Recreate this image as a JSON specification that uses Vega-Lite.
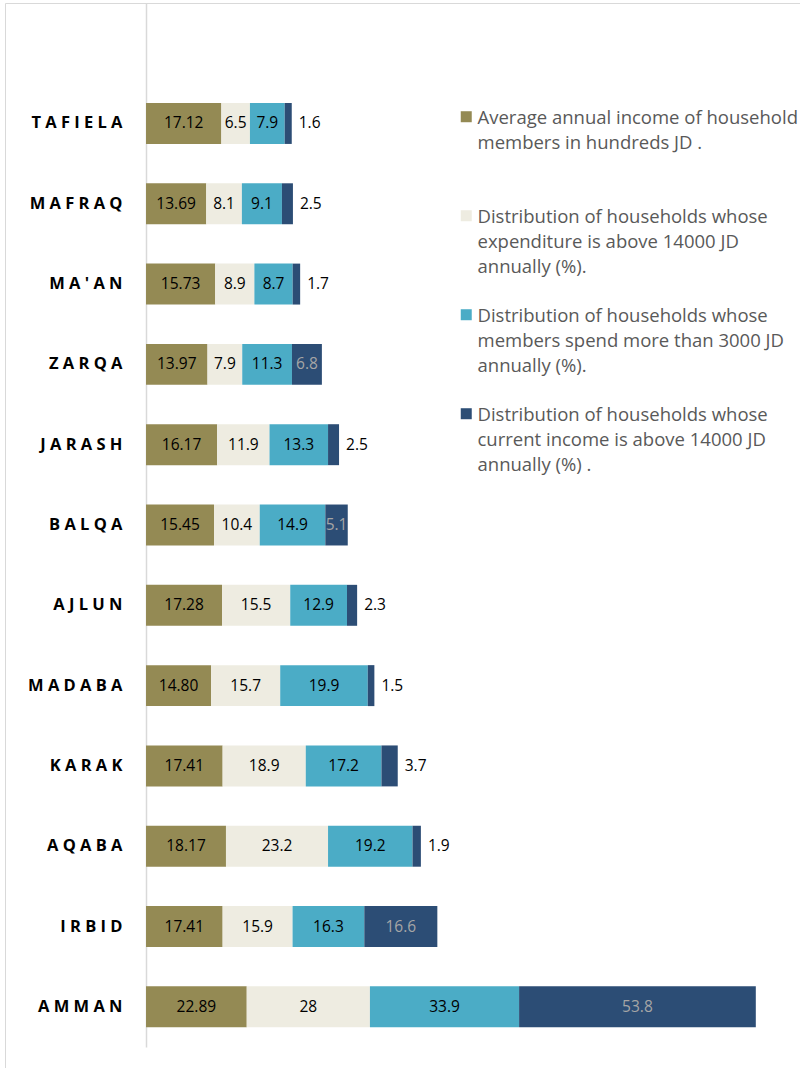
{
  "$schema": "https://vega.github.io/schema/vega-lite/v6.json",
  "width": 800,
  "height": 1065,
  "autosize": {"type": "none"},
  "padding": {"left": 5, "top": 3, "right": 0, "bottom": 0},
  "background": "white",
  "config": {"view": {"stroke": "#d9d9d9", "strokeWidth": 1}, "font": "Open Sans", "style": {"guide-label": {"lineHeight": 25}}},
  "data": {"values": [
    {"region": "TAFIELA", "k": 1, "series": "Average annual income of household members in hundreds JD .", "value": 17.12},
    {"region": "TAFIELA", "k": 2, "series": "Distribution of households whose expenditure is above 14000 JD annually (%).", "value": 6.5},
    {"region": "TAFIELA", "k": 3, "series": "Distribution of households whose members spend more than 3000 JD annually (%).", "value": 7.9},
    {"region": "TAFIELA", "k": 4, "series": "Distribution of households  whose current income is above 14000 JD annually (%) .", "value": 1.6},
    {"region": "MAFRAQ", "k": 1, "series": "Average annual income of household members in hundreds JD .", "value": 13.69},
    {"region": "MAFRAQ", "k": 2, "series": "Distribution of households whose expenditure is above 14000 JD annually (%).", "value": 8.1},
    {"region": "MAFRAQ", "k": 3, "series": "Distribution of households whose members spend more than 3000 JD annually (%).", "value": 9.1},
    {"region": "MAFRAQ", "k": 4, "series": "Distribution of households  whose current income is above 14000 JD annually (%) .", "value": 2.5},
    {"region": "MA'AN", "k": 1, "series": "Average annual income of household members in hundreds JD .", "value": 15.73},
    {"region": "MA'AN", "k": 2, "series": "Distribution of households whose expenditure is above 14000 JD annually (%).", "value": 8.9},
    {"region": "MA'AN", "k": 3, "series": "Distribution of households whose members spend more than 3000 JD annually (%).", "value": 8.7},
    {"region": "MA'AN", "k": 4, "series": "Distribution of households  whose current income is above 14000 JD annually (%) .", "value": 1.7},
    {"region": "ZARQA", "k": 1, "series": "Average annual income of household members in hundreds JD .", "value": 13.97},
    {"region": "ZARQA", "k": 2, "series": "Distribution of households whose expenditure is above 14000 JD annually (%).", "value": 7.9},
    {"region": "ZARQA", "k": 3, "series": "Distribution of households whose members spend more than 3000 JD annually (%).", "value": 11.3},
    {"region": "ZARQA", "k": 4, "series": "Distribution of households  whose current income is above 14000 JD annually (%) .", "value": 6.8},
    {"region": "JARASH", "k": 1, "series": "Average annual income of household members in hundreds JD .", "value": 16.17},
    {"region": "JARASH", "k": 2, "series": "Distribution of households whose expenditure is above 14000 JD annually (%).", "value": 11.9},
    {"region": "JARASH", "k": 3, "series": "Distribution of households whose members spend more than 3000 JD annually (%).", "value": 13.3},
    {"region": "JARASH", "k": 4, "series": "Distribution of households  whose current income is above 14000 JD annually (%) .", "value": 2.5},
    {"region": "BALQA", "k": 1, "series": "Average annual income of household members in hundreds JD .", "value": 15.45},
    {"region": "BALQA", "k": 2, "series": "Distribution of households whose expenditure is above 14000 JD annually (%).", "value": 10.4},
    {"region": "BALQA", "k": 3, "series": "Distribution of households whose members spend more than 3000 JD annually (%).", "value": 14.9},
    {"region": "BALQA", "k": 4, "series": "Distribution of households  whose current income is above 14000 JD annually (%) .", "value": 5.1},
    {"region": "AJLUN", "k": 1, "series": "Average annual income of household members in hundreds JD .", "value": 17.28},
    {"region": "AJLUN", "k": 2, "series": "Distribution of households whose expenditure is above 14000 JD annually (%).", "value": 15.5},
    {"region": "AJLUN", "k": 3, "series": "Distribution of households whose members spend more than 3000 JD annually (%).", "value": 12.9},
    {"region": "AJLUN", "k": 4, "series": "Distribution of households  whose current income is above 14000 JD annually (%) .", "value": 2.3},
    {"region": "MADABA", "k": 1, "series": "Average annual income of household members in hundreds JD .", "value": 14.80},
    {"region": "MADABA", "k": 2, "series": "Distribution of households whose expenditure is above 14000 JD annually (%).", "value": 15.7},
    {"region": "MADABA", "k": 3, "series": "Distribution of households whose members spend more than 3000 JD annually (%).", "value": 19.9},
    {"region": "MADABA", "k": 4, "series": "Distribution of households  whose current income is above 14000 JD annually (%) .", "value": 1.5},
    {"region": "KARAK", "k": 1, "series": "Average annual income of household members in hundreds JD .", "value": 17.41},
    {"region": "KARAK", "k": 2, "series": "Distribution of households whose expenditure is above 14000 JD annually (%).", "value": 18.9},
    {"region": "KARAK", "k": 3, "series": "Distribution of households whose members spend more than 3000 JD annually (%).", "value": 17.2},
    {"region": "KARAK", "k": 4, "series": "Distribution of households  whose current income is above 14000 JD annually (%) .", "value": 3.7},
    {"region": "AQABA", "k": 1, "series": "Average annual income of household members in hundreds JD .", "value": 18.17},
    {"region": "AQABA", "k": 2, "series": "Distribution of households whose expenditure is above 14000 JD annually (%).", "value": 23.2},
    {"region": "AQABA", "k": 3, "series": "Distribution of households whose members spend more than 3000 JD annually (%).", "value": 19.2},
    {"region": "AQABA", "k": 4, "series": "Distribution of households  whose current income is above 14000 JD annually (%) .", "value": 1.9},
    {"region": "IRBID", "k": 1, "series": "Average annual income of household members in hundreds JD .", "value": 17.41},
    {"region": "IRBID", "k": 2, "series": "Distribution of households whose expenditure is above 14000 JD annually (%).", "value": 15.9},
    {"region": "IRBID", "k": 3, "series": "Distribution of households whose members spend more than 3000 JD annually (%).", "value": 16.3},
    {"region": "IRBID", "k": 4, "series": "Distribution of households  whose current income is above 14000 JD annually (%) .", "value": 16.6},
    {"region": "AMMAN", "k": 1, "series": "Average annual income of household members in hundreds JD .", "value": 22.89},
    {"region": "AMMAN", "k": 2, "series": "Distribution of households whose expenditure is above 14000 JD annually (%).", "value": 28},
    {"region": "AMMAN", "k": 3, "series": "Distribution of households whose members spend more than 3000 JD annually (%).", "value": 33.9},
    {"region": "AMMAN", "k": 4, "series": "Distribution of households  whose current income is above 14000 JD annually (%) .", "value": 53.8}
  ]},
  "transform": [
    {"stack": "value", "groupby": ["region"], "sort": [{"field": "k", "order": "ascending"}], "as": ["x0", "x1"]},
    {"calculate": "(datum.x0 + datum.x1) / 2", "as": "xm"}
  ],
  "encoding": {
    "y": {
      "field": "region", "type": "nominal",
      "scale": {
        "domain": ["", "TAFIELA", "MAFRAQ", "MA'AN", "ZARQA", "JARASH", "BALQA", "AJLUN", "MADABA", "KARAK", "AQABA", "IRBID", "AMMAN"],
        "range": [0, 1044], "paddingInner": 0.49, "paddingOuter": 0.245
      },
      "axis": {
        "title": null, "offset": -141, "ticks": false, "labelPadding": 24,
        "labelFont": "Open Sans", "labelFontWeight": "bold", "labelFontSize": 16.5, "labelColor": "#000000",
        "domainColor": "#d9d9d9", "domainWidth": 1.5,
        "labelExpr": "join(split(datum.label, ''), ' ')"
      }
    }
  },
  "layer": [
    {
      "mark": {"type": "bar"},
      "encoding": {
        "x": {"field": "x0", "type": "quantitative", "scale": {"domain": [-32.05, 149.77], "nice": false, "zero": false}, "axis": null},
        "x2": {"field": "x1"},
        "color": {
          "field": "series", "type": "nominal",
          "scale": {
            "domain": [
              "Average annual income of household members in hundreds JD .",
              "Distribution of households whose expenditure is above 14000 JD annually (%).",
              "Distribution of households whose members spend more than 3000 JD annually (%).",
              "Distribution of households  whose current income is above 14000 JD annually (%) ."
            ],
            "range": ["#948A54", "#EEECE1", "#4BACC6", "#2C4D75"]
          },
          "legend": {
            "orient": "none", "legendX": 452, "legendY": 97, "title": null, "padding": 0,
            "symbolType": "M-1,0.36L1,0.36L1,2.36L-1,2.36Z", "symbolSize": 121, "symbolStrokeWidth": 0,
            "labelFont": "Open Sans", "labelFontSize": 18.5, "labelColor": "#595959", "labelLimit": 400,
            "labelBaseline": "top", "labelOffset": 2, "rowPadding": 21,
            "labelExpr": "indexof(datum.value, 'Average') == 0 ? ['Average annual income of household', 'members in hundreds JD .', ' '] : indexof(datum.value, 'expenditure') > 0 ? ['Distribution of households whose', 'expenditure is above 14000 JD', 'annually (%).'] : indexof(datum.value, 'members spend') > 0 ? ['Distribution of households whose', 'members spend more than 3000 JD', 'annually (%).'] : ['Distribution of households  whose', 'current income is above 14000 JD', 'annually (%) .']"
          }
        }
      }
    },
    {
      "transform": [{"filter": "datum.k == 1"}],
      "mark": {"type": "text", "font": "Open Sans", "fontSize": 15.5, "color": "#000000"},
      "encoding": {"x": {"field": "xm", "type": "quantitative"}, "text": {"field": "value", "type": "quantitative", "format": ".2f"}}
    },
    {
      "transform": [{"filter": "datum.k == 2 || datum.k == 3"}],
      "mark": {"type": "text", "font": "Open Sans", "fontSize": 15.5, "color": "#000000"},
      "encoding": {"x": {"field": "xm", "type": "quantitative"}, "text": {"field": "value", "type": "quantitative"}}
    },
    {
      "transform": [{"filter": "datum.k == 4 && datum.value >= 5"}],
      "mark": {"type": "text", "font": "Open Sans", "fontSize": 15.5, "color": "#a6a6a6"},
      "encoding": {"x": {"field": "xm", "type": "quantitative"}, "text": {"field": "value", "type": "quantitative"}}
    },
    {
      "transform": [{"filter": "datum.k == 4 && datum.value < 5"}],
      "mark": {"type": "text", "font": "Open Sans", "fontSize": 15.5, "color": "#000000", "align": "left", "dx": 7},
      "encoding": {"x": {"field": "x1", "type": "quantitative"}, "text": {"field": "value", "type": "quantitative"}}
    }
  ]
}
